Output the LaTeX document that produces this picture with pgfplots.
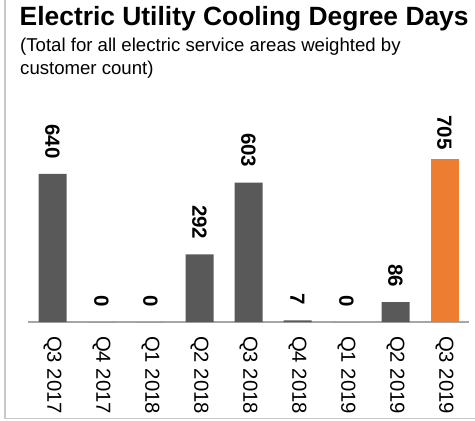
\documentclass[border=0pt]{standalone}
\usepackage{pgfplots}
\pgfplotsset{compat=1.18}
\usepackage{fontspec}
\setmainfont{Liberation Sans}
\definecolor{bargray}{HTML}{595959}
\definecolor{barorange}{HTML}{ED7D31}
\definecolor{axisgray}{HTML}{A6A6A6}
\definecolor{framegray}{HTML}{C8C8C8}
\begin{document}
\begin{tikzpicture}
\useasboundingbox (0,0) rectangle (475bp,421bp);
\draw[framegray, line width=1.5bp] (5bp,421bp) -- (5bp,2.5bp) -- (475bp,2.5bp);
\node[anchor=base west, inner sep=0pt, font=\bfseries\fontsize{26.4bp}{30bp}\selectfont] at (19.5bp,395bp) {Electric Utility Cooling Degree Days};
\node[anchor=base west, inner sep=0pt, font=\fontsize{18.6bp}{22bp}\selectfont] at (20bp,369.5bp) {(Total for all electric service areas weighted by};
\node[anchor=base west, inner sep=0pt, font=\fontsize{18.6bp}{22bp}\selectfont] at (20bp,346bp) {customer count)};
\begin{axis}[
  at={(28bp,99bp)}, anchor=south west, scale only axis,
  width=441bp, height=192bp,
  xmin=-0.5, xmax=8.5, ymin=0, ymax=830,
  clip=false,
  ybar, bar width=28bp, bar shift=0pt,
  axis x line*=bottom, axis y line=none,
  x axis line style={draw=axisgray, line width=1.2bp, -},
  xtick={0,1,2,3,4,5,6,7,8},
  xticklabels={Q3 2017,Q4 2017,Q1 2018,Q2 2018,Q3 2018,Q4 2018,Q1 2019,Q2 2019,Q3 2019},
  major tick length=0pt,
  xticklabel style={rotate=-90, anchor=west, inner xsep=14bp, inner ysep=0pt, font=\fontsize{20.3bp}{24bp}\selectfont},
  /pgf/number format/assume math mode=true,
  nodes near coords,
  every node near coord/.append style={rotate=-90, anchor=east, inner xsep=15bp, inner ysep=0pt, font=\bfseries\fontsize{20.5bp}{24bp}\selectfont, text=black},
]
\addplot[fill=bargray, draw=none] coordinates {(0,640) (1,0) (2,0) (3,292) (4,603) (5,7) (6,0) (7,86)};
\addplot[fill=barorange, draw=none, every node near coord/.append style={inner xsep=9bp}] coordinates {(8,705)};
\end{axis}
\end{tikzpicture}
\end{document}
